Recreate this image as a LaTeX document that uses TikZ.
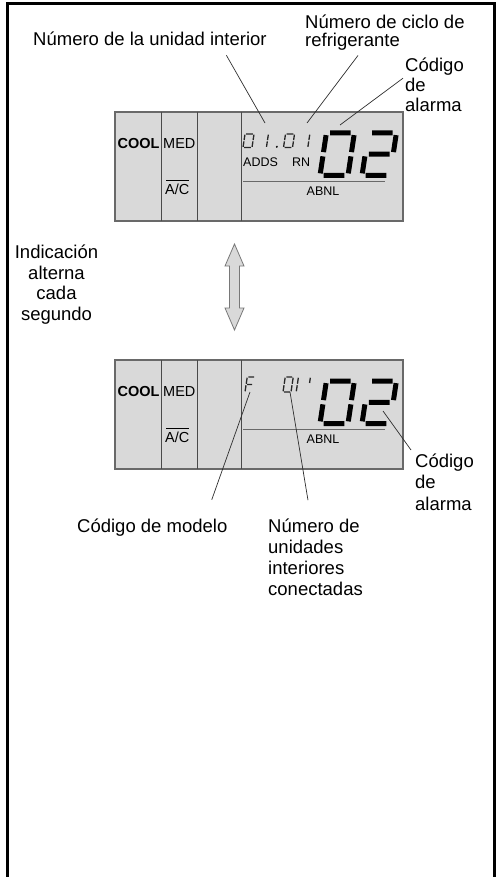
\documentclass[tikz,border=0pt]{standalone}
\usepackage{fontspec}
\setmainfont{Liberation Sans}
\usetikzlibrary{positioning, calc}
\definecolor{lcdgray}{RGB}{217,217,217}
\definecolor{lcdedge}{RGB}{105,105,105}
\definecolor{leadgray}{RGB}{45,45,45}
\definecolor{arrowedge}{RGB}{120,120,120}
\tikzset{
  lbl/.style={inner sep=0pt, align=left, font=\fontsize{18.5}{20.8}\selectfont},
  lcdpanel/.style={draw=lcdedge, fill=lcdgray, line width=1.2pt},
  divider/.style={draw=lcdedge!70!black, line width=0.8pt},
  lcdtext/.style={inner sep=0pt, font=\fontsize{14.5}{16}\selectfont},
  lcdbold/.style={inner sep=0pt, font=\fontsize{14.5}{16}\selectfont\bfseries},
  lcdsmall/.style={inner sep=0pt, font=\fontsize{12.5}{14}\selectfont},
  leader/.style={draw=leadgray, line width=0.7pt},
  bigseg/.style={transform shape, line width=5pt, color=black},
  smallseg/.style={transform shape, line width=1.3pt, color=black!85},
  swaparrow/.style={draw=arrowedge, fill=lcdgray, line width=0.8pt, line join=miter},
  % seven-segment digits in a 1 x 2 box
  lcd0/.pic={\draw[pic actions] (0.13,2) -- (0.87,2) (1,1.9) -- (1,1.1)
    (1,0.9) -- (1,0.1) (0.13,0) -- (0.87,0) (0,0.9) -- (0,0.1) (0,1.9) -- (0,1.1);},
  lcd1/.pic={\draw[pic actions] (1,1.9) -- (1,1.1) (1,0.9) -- (1,0.1);},
  lcd2/.pic={\draw[pic actions] (0.13,2) -- (0.87,2) (1,1.9) -- (1,1.1)
    (0.87,1) -- (0.13,1) (0,0.9) -- (0,0.1) (0.13,0) -- (0.87,0);},
  lcdF/.pic={\draw[pic actions] (0.13,2) -- (0.87,2) (0,1.9) -- (0,1.1)
    (0.13,1) -- (0.75,1) (0,0.9) -- (0,0.1);}
}
\begin{document}
\begin{tikzpicture}[x=1pt, y=-1pt]
  \useasboundingbox (0,0) rectangle (498,877);
  % outer frame, open at the bottom
  \draw[line width=2.5pt] (7.5,877) -- (7.5,3.5) -- (494.5,3.5) -- (494.5,877);

  % both LCD panels share the same layout
  \foreach \p/\py in {top/112, bot/360} {
    \begin{scope}[shift={(0,\py)}]
      \draw[lcdpanel] (115,0) rectangle (403,109);
      \foreach \dx in {161.5,197.5,241.5}
        \draw[divider] (\dx,0) -- (\dx,109);
      \node[lcdbold] (cool-\p) at (138.5,31.5) {COOL};
      \node[lcdtext, anchor=west] (med-\p) at (163,31.5) {MED};
      \node[lcdtext, anchor=west] (ac-\p) at (165,77) {A/C};
      \draw[line width=0.8pt] ([shift={(1,-3.5)}]ac-\p.north west) -- ([shift={(-1,-3.5)}]ac-\p.north east);
      \draw[line width=0.9pt, draw=lcdedge] (243,69) -- (385,69);
      \node[lcdsmall] (abnl-\p) at (323,79.5) {ABNL};
      % big alarm code
      \begin{scope}[shift={(320,63.5)}, xslant=0.15, x=28pt, y=21.25pt]
        \pic[bigseg] {lcd0};
        \pic[bigseg] at (1.5,0) {lcd2};
      \end{scope}
    \end{scope}
  }

  % small digits, upper display
  \begin{scope}[shift={(243,147.5)}, xslant=0.15, x=9pt, y=6.75pt]
    \pic[smallseg] {lcd0};
    \pic[smallseg] at (1.6,0) {lcd1};
    \fill (3.75,0.1) circle (1.1pt);
    \pic[smallseg] at (4.5,0) {lcd0};
    \pic[smallseg] at (6.2,0) {lcd1};
  \end{scope}
  \node[lcdsmall, anchor=west] (adds) at (243,162) {ADDS};
  \node[lcdsmall, anchor=west] (rn) at (292,162) {RN};

  % small digits, lower display
  \begin{scope}[shift={(245,392)}, xslant=0.15, x=8pt, y=7.5pt]
    \pic[smallseg] {lcdF};
    \pic[smallseg] at (4.75,0) {lcd0};
    \pic[smallseg] at (5.4,0) {lcd1};
    \draw[smallseg] (7.9,1.9) -- (7.9,1.2);
  \end{scope}

  % alternating arrow
  \draw[swaparrow] (234.5,244) -- ++(9.5,22) -- ++(-4.5,0) -- ++(0,42) -- ++(4.5,0)
    -- (234.5,330) -- ++(-9.5,-22) -- ++(4.5,0) -- ++(0,-42) -- ++(-4.5,0) -- cycle;

  % labels
  \node[lbl, anchor=base west] (lblunit) at (33,45.5) {Número de la unidad interior};
  \node[lbl, anchor=north west, font=\fontsize{18.5}{17.4}\selectfont] (lblcycle) at (305,14.8)
    {Número de ciclo de\\refrigerante};
  \node[lbl, anchor=north west, font=\fontsize{18.5}{20}\selectfont] (lblalarm) at (405,57.2)
    {Código\\de\\alarma};
  \node[lbl, anchor=north, align=center, font=\fontsize{18.5}{20.7}\selectfont] (lblalt) at (56.5,244.5)
    {Indicación\\alterna\\cada\\segundo};
  \node[lbl, anchor=base west] (lblmodel) at (77,532) {Código de modelo};
  \node[lbl, anchor=north west, font=\fontsize{18.5}{21}\selectfont] (lblcount) at (268,518.2)
    {Número de\\unidades\\interiores\\conectadas};
  \node[lbl, anchor=north west, font=\fontsize{18.5}{21.5}\selectfont] (lblalarmb) at (415,453.5)
    {Código\\de\\alarma};

  % leader targets on the displays
  \coordinate (p-unit) at (265,123);
  \coordinate (p-cycle) at (307,123);
  \coordinate (p-alarm) at (340,125);
  \coordinate (p-model) at (250,392);
  \coordinate (p-count) at (290,392);
  \coordinate (p-alarmb) at (383,411);

  \draw[leader] ([shift={(76.5,9.5)}]lblunit.south) -- (p-unit);
  \draw[leader] ([shift={(53,5.4)}]lblcycle.south west) -- (p-cycle);
  \draw[leader] ([shift={(-2,21)}]lblalarm.north west) -- (p-alarm);
  \draw[leader] ([shift={(59.5,-18.5)}]lblmodel.north) -- (p-model);
  \draw[leader] ([shift={(40,-18)}]lblcount.north west) -- (p-count);
  \draw[leader] ([shift={(-4,-3.5)}]lblalarmb.north west) -- (p-alarmb);
\end{tikzpicture}
\end{document}
